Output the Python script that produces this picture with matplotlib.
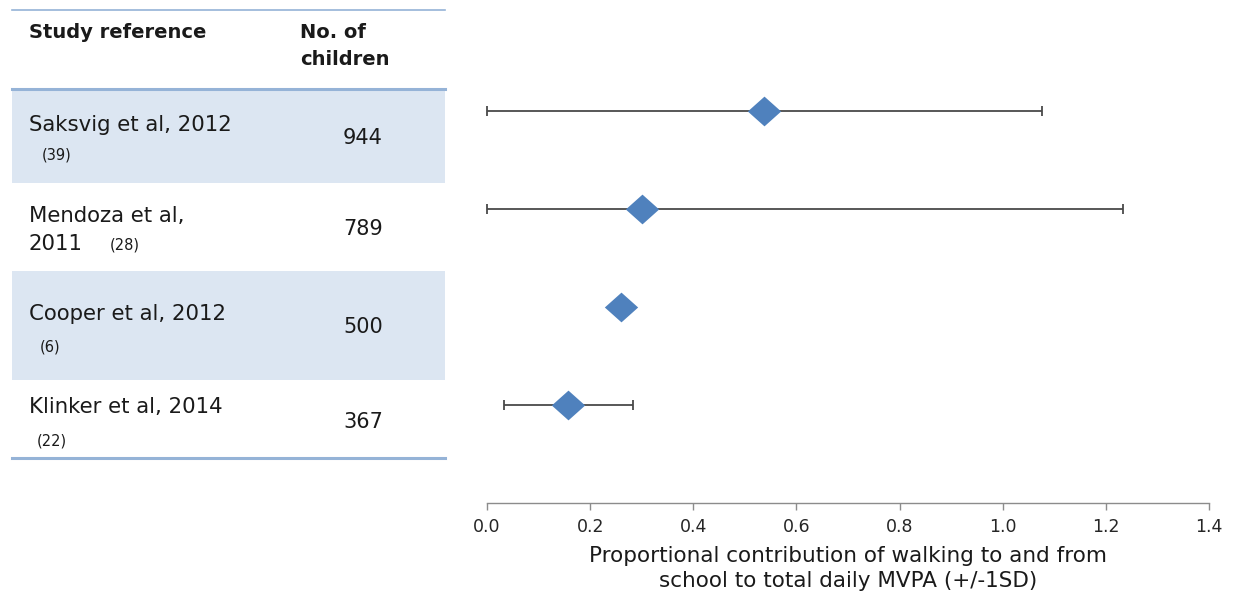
import matplotlib.pyplot as plt
from matplotlib.patches import Rectangle
from matplotlib.path import Path

# study table
study_names = ["Saksvig et al, 2012", "Mendoza et al,\n2011", "Cooper et al, 2012", "Klinker et al, 2014"]
ref_nums = ["(39)", "(28)", "(6)", "(22)"]
n_children = [944, 789, 500, 367]

# proportional contribution of walking to school to daily MVPA, +/- 1SD
mean_prop = [0.537, 0.300, 0.260, 0.158]
err_low = [0.537, 0.300, 0.0, 0.125]
err_high = [0.539, 0.933, 0.0, 0.125]

x_ticks = [0.0, 0.2, 0.4, 0.6, 0.8, 1.0, 1.2, 1.4]

W, H = 1240, 599
fig = plt.figure(figsize=(W / 100, H / 100), dpi=100)

# table drawn in pixel coords on the left
tab = fig.add_axes([0, 0, 1, 1], zorder=0)
tab.set_xlim(0, W)
tab.set_ylim(H, 0)
tab.axis('off')

shade = '#dce6f2'
rule = '#95b3d7'
tfont = 'DejaVu Sans'
tcol = '#1a1a1a'

# shaded bands for rows 1 and 3, (top, bottom) in px
bands = [(90, 183), (271, 380)]
for top, bot in bands:
    tab.add_patch(Rectangle((12, top), 433, bot - top, color=shade, lw=0))
tab.plot([12, 445], [10, 10], color=rule, lw=1.2)
tab.plot([12, 445], [89, 89], color=rule, lw=2.2)
tab.plot([12, 445], [458, 458], color=rule, lw=2.2)

tab.text(29, 38, "Study reference", fontsize=14, fontweight='bold', family=tfont, color=tcol, va='baseline')
tab.text(300, 38, "No. of", fontsize=14, fontweight='bold', family=tfont, color=tcol, va='baseline')
tab.text(300, 65, "children", fontsize=14, fontweight='bold', family=tfont, color=tcol, va='baseline')

# per-row layout: name baseline, ref (x, y centre), number baseline
name_base = [131, 222, 320, 413]
ref_pos = [(42, 155), (110, 245), (40, 347), (37, 441)]
num_base = [144, 235, 333, 428]
for i in range(len(study_names)):
    for j, line in enumerate(study_names[i].split('\n')):
        tab.text(29, name_base[i] + 28 * j, line, fontsize=15.3, family=tfont, color=tcol, va='baseline')
    tab.text(ref_pos[i][0], ref_pos[i][1], ref_nums[i], fontsize=10.5, family=tfont, color=tcol, va='center')
    tab.text(343, num_base[i], str(n_children[i]), fontsize=15, family=tfont, color=tcol, va='baseline')

# forest-style plot
ax = fig.add_axes([487 / W, 1 - 503 / H, (1209 - 487) / W, (503 - 62) / H], zorder=1)
ax.patch.set_alpha(0)
rows = list(range(len(mean_prop)))

ax.errorbar(mean_prop, rows, xerr=[err_low, err_high], fmt='none', ecolor='#4a4a4a',
            elinewidth=1.3, capsize=3.5, capthick=1.3, clip_on=False, zorder=2)
diamond = Path([(-1.12, 0), (0, 1), (1.12, 0), (0, -1), (-1.12, 0)], closed=True)
ax.plot(mean_prop, rows, linestyle='none', marker=diamond, markersize=24,
        color='#4f81bd', markeredgewidth=0, zorder=3, clip_on=False)

ax.set_xlim(0, 1.4)
ax.set_ylim(4, -0.5)
ax.set_yticks([])
for s in ['top', 'right', 'left']:
    ax.spines[s].set_visible(False)
ax.spines['bottom'].set_color('#8c8c8c')
ax.spines['bottom'].set_linewidth(1.0)
ax.set_xticks(x_ticks)
ax.set_xticklabels([f"{t:.1f}" for t in x_ticks], family='DejaVu Sans', fontsize=12.5, color='#262626')
ax.tick_params(axis='x', direction='out', length=5, width=1.0, color='#8c8c8c', pad=6)
ax.set_xlabel("Proportional contribution of walking to and from\nschool to total daily MVPA (+/-1SD)",
              family='DejaVu Sans', fontsize=15.5, color='#1a1a1a', labelpad=7, linespacing=1.3)

fig.savefig('out.png', dpi=100)
